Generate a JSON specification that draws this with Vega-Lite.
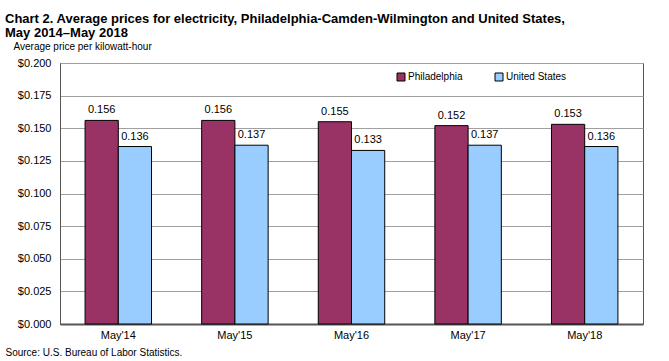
{
  "$schema": "https://vega.github.io/schema/vega-lite/v6.json",
  "width": 583,
  "height": 261,
  "autosize": {"type": "none"},
  "padding": {"left": 60, "top": 63, "right": 26, "bottom": 37},
  "background": "white",
  "title": {
    "text": ["Chart 2. Average prices for electricity, Philadelphia-Camden-Wilmington and United States,", "May 2014–May 2018"],
    "anchor": "start",
    "frame": "group",
    "dx": -55,
    "offset": 1,
    "font": "Liberation Sans",
    "fontSize": 13,
    "fontWeight": "bold",
    "color": "#000000",
    "lineHeight": 14
  },
  "config": {
    "view": {"stroke": "#555555", "strokeWidth": 1},
    "font": "Liberation Sans"
  },
  "data": {
    "values": [
      {"period": "May'14", "area": "Philadelphia", "price": 0.156},
      {"period": "May'14", "area": "United States", "price": 0.136},
      {"period": "May'15", "area": "Philadelphia", "price": 0.156},
      {"period": "May'15", "area": "United States", "price": 0.137},
      {"period": "May'16", "area": "Philadelphia", "price": 0.155},
      {"period": "May'16", "area": "United States", "price": 0.133},
      {"period": "May'17", "area": "Philadelphia", "price": 0.152},
      {"period": "May'17", "area": "United States", "price": 0.137},
      {"period": "May'18", "area": "Philadelphia", "price": 0.153},
      {"period": "May'18", "area": "United States", "price": 0.136}
    ]
  },
  "encoding": {
    "x": {
      "field": "period",
      "type": "nominal",
      "sort": null,
      "scale": {"paddingInner": 0.43, "paddingOuter": 0.215},
      "axis": {
        "title": "Source: U.S. Bureau of Labor Statistics.",
        "titleX": -55,
        "titleY": 23,
        "titleAlign": "left",
        "titleBaseline": "top",
        "titleAnchor": null,
        "titleFont": "Liberation Sans",
        "titleFontSize": 10,
        "titleFontWeight": "normal",
        "titleColor": "#000000",
        "labelAngle": 0,
        "labelFont": "Liberation Sans",
        "labelFontSize": 11,
        "labelColor": "#000000",
        "labelPadding": 5,
        "ticks": false,
        "domainColor": "#555555",
        "domainWidth": 2
      }
    },
    "xOffset": {"field": "area", "type": "nominal", "scale": {"paddingInner": 0, "paddingOuter": 0}},
    "y": {
      "field": "price",
      "type": "quantitative",
      "scale": {"domain": [0, 0.2]},
      "axis": {
        "title": "Average price per kilowatt-hour",
        "titleAngle": 0,
        "titleX": -47,
        "titleY": -14,
        "titleAlign": "left",
        "titleBaseline": "alphabetic",
        "titleFont": "Liberation Sans",
        "titleFontSize": 10,
        "titleFontWeight": "normal",
        "titleColor": "#000000",
        "values": [0, 0.025, 0.05, 0.075, 0.1, 0.125, 0.15, 0.175, 0.2],
        "format": "$.3f",
        "labelFont": "Liberation Sans",
        "labelFontSize": 11,
        "labelColor": "#000000",
        "labelPadding": 9,
        "ticks": false,
        "grid": true,
        "gridColor": "#a0a0a0",
        "gridWidth": 1,
        "domainColor": "#555555",
        "domainWidth": 1
      }
    }
  },
  "layer": [
    {
      "mark": {"type": "bar", "stroke": "#000000", "strokeWidth": 1},
      "encoding": {
        "color": {
          "field": "area",
          "type": "nominal",
          "scale": {"domain": ["Philadelphia", "United States"], "range": ["#993366", "#99ccff"]},
          "legend": {
            "title": null,
            "orient": "none",
            "legendX": 336,
            "legendY": 9,
            "direction": "horizontal",
            "symbolType": "square",
            "symbolSize": 64,
            "symbolStrokeColor": "#000000",
            "symbolStrokeWidth": 1,
            "labelFont": "Liberation Sans",
            "labelFontSize": 10,
            "labelColor": "#000000",
            "labelOffset": 2,
            "columnPadding": 30
          }
        }
      }
    },
    {
      "mark": {"type": "text", "baseline": "bottom", "dy": -5, "font": "Liberation Sans", "fontSize": 11, "color": "#000000"},
      "encoding": {
        "text": {"field": "price", "type": "quantitative", "format": ".3f"}
      }
    }
  ]
}
